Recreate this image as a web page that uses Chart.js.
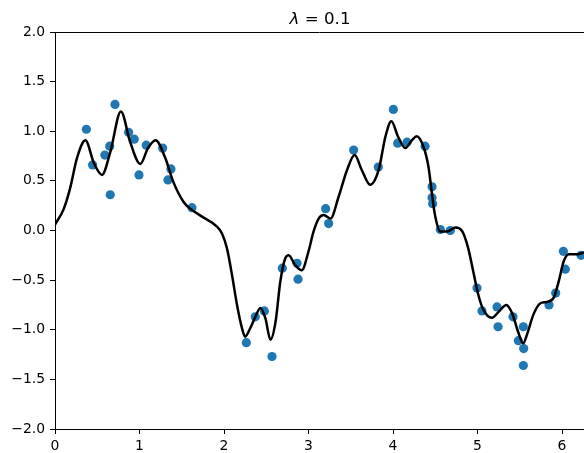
<!DOCTYPE html>
<html>
<head>
<meta charset="utf-8">
<script src="https://cdn.jsdelivr.net/npm/chart.js@4"></script>
<style>
  html, body { margin: 0; padding: 0; background: #fff; }
  #wrap { width: 584px; height: 453px; }
</style>
</head>
<body>
<div id="wrap"><canvas id="fit"></canvas></div>
<script>
// noisy samples
const pointX = [0.371,0.445,0.59,0.647,0.654,0.71,0.871,0.938,0.994,1.08,1.274,1.372,1.337,1.621,
  2.264,2.37,2.477,2.568,2.69,2.864,2.876,3.203,3.238,3.534,3.826,4.004,4.055,4.166,4.379,
  4.462,4.462,4.469,4.56,4.678,4.994,5.053,5.231,5.243,5.42,5.483,5.546,5.542,5.542,5.846,
  5.925,6.016,6.039,6.225];
const pointY = [1.02,0.66,0.76,0.85,0.36,1.27,0.99,0.92,0.56,0.86,0.83,0.62,0.51,0.23,
  -1.13,-0.87,-0.81,-1.27,-0.38,-0.33,-0.49,0.22,0.07,0.81,0.64,1.22,0.88,0.89,0.85,
  0.44,0.33,0.27,0.01,0.0,-0.58,-0.81,-0.77,-0.97,-0.87,-1.11,-1.19,-0.97,-1.36,-0.75,
  -0.63,-0.21,-0.39,-0.25];

// fitted curve
const curveX = [0,0.1,0.18,0.26,0.36,0.46,0.556,0.654,0.78,0.89,1.01,1.1,1.19,1.305,1.4,1.52,1.6,
  1.74,1.917,1.976,2.035,2.095,2.154,2.213,2.25,2.31,2.37,2.43,2.49,2.55,2.61,2.666,2.725,
  2.765,2.844,2.92,3.0,3.06,3.12,3.18,3.26,3.356,3.456,3.546,3.63,3.73,3.83,3.91,3.98,4.06,
  4.145,4.225,4.28,4.36,4.42,4.46,4.5,4.56,4.64,4.74,4.82,4.89,4.95,5.01,5.07,5.17,5.25,
  5.34,5.41,5.48,5.54,5.59,5.66,5.74,5.82,5.9,5.96,6.02,6.08,6.18,6.26];
const curveY = [0.06,0.21,0.43,0.73,0.91,0.68,0.56,0.79,1.2,0.89,0.67,0.83,0.91,0.73,0.49,0.29,0.22,
  0.14,0.04,-0.03,-0.18,-0.45,-0.75,-0.985,-1.07,-0.985,-0.87,-0.78,-0.885,-1.1,-0.92,-0.516,-0.28,
  -0.25,-0.35,-0.4,-0.21,-0.01,0.12,0.156,0.12,0.34,0.61,0.76,0.61,0.46,0.61,0.945,1.1,0.945,
  0.83,0.91,0.95,0.845,0.64,0.375,0.14,-0.01,-0.01,0.03,-0.01,-0.18,-0.415,-0.65,-0.8,-0.88,-0.82,
  -0.75,-0.835,-1.02,-1.137,-1.036,-0.85,-0.735,-0.72,-0.68,-0.515,-0.31,-0.24,-0.24,-0.22];

const xTicks = [0,1,2,3,4,5,6];
const yTicks = [-2,-1.5,-1,-0.5,0,0.5,1,1.5,2];

const FONT = "'DejaVu Sans', sans-serif";

const titlePlugin = {
  id: "mathTitle",
  afterDraw(chart) {
    const c = chart.ctx, area = chart.chartArea;
    c.save();
    c.fillStyle = "#000";
    c.textBaseline = "alphabetic";
    c.font = "oblique 16.7px " + FONT;
    const w1 = c.measureText("\u03bb").width;
    c.font = "16.7px " + FONT;
    const rest = " = 0.1";
    const w2 = c.measureText(rest).width;
    // axes are cut at the right edge; centre on the full axes width
    let x = 320 - (w1 + w2) / 2;
    c.font = "oblique 16.7px " + FONT;
    c.fillText("\u03bb", x, 24);
    c.font = "16.7px " + FONT;
    c.fillText(rest, x + w1, 24);
    // top spine
    c.strokeStyle = "#000";
    c.lineWidth = 1;
    c.beginPath();
    c.moveTo(area.left, area.top + 0.5);
    c.lineTo(area.right, area.top + 0.5);
    c.stroke();
    c.restore();
  }
};

const fmt = v => (v < 0 ? "\u2212" : "") + Math.abs(v).toFixed(1);

new Chart(document.getElementById("fit"), {
  type: "scatter",
  data: {
    datasets: [
      {
        data: curveX.map((x, i) => ({ x, y: curveY[i] })),
        showLine: true,
        borderColor: "#000",
        borderWidth: 2.5,
        pointRadius: 0,
        cubicInterpolationMode: "monotone",
        order: 0
      },
      {
        data: pointX.map((x, i) => ({ x, y: pointY[i] })),
        backgroundColor: "#1f77b4",
        borderWidth: 0,
        pointRadius: 4.6,
        order: 1
      }
    ]
  },
  options: {
    responsive: true,
    maintainAspectRatio: false,
    animation: false,
    layout: { autoPadding: false, padding: { top: 32, left: 0, right: 0, bottom: 0 } },
    plugins: { legend: { display: false }, tooltip: { enabled: false }, title: { display: false } },
    scales: {
      x: {
        type: "linear",
        min: 0,
        max: 6.26,
        afterBuildTicks: s => { s.ticks = xTicks.map(v => ({ value: v })); },
        afterFit: s => { s.height = 24; },
        grid: { drawOnChartArea: false, tickLength: 5, tickColor: "#000" },
        border: { color: "#000", width: 1 },
        ticks: { color: "#000", padding: 4, font: { family: FONT, size: 13.9 }, callback: v => String(v) }
      },
      y: {
        min: -2,
        max: 2,
        afterBuildTicks: s => { s.ticks = yTicks.map(v => ({ value: v })); },
        afterFit: s => { s.width = 55; },
        grid: { drawOnChartArea: false, tickLength: 5, tickColor: "#000" },
        border: { color: "#000", width: 1 },
        ticks: { color: "#000", padding: 5, font: { family: FONT, size: 13.9 }, callback: fmt }
      }
    }
  },
  plugins: [titlePlugin]
});
</script>
</body>
</html>
